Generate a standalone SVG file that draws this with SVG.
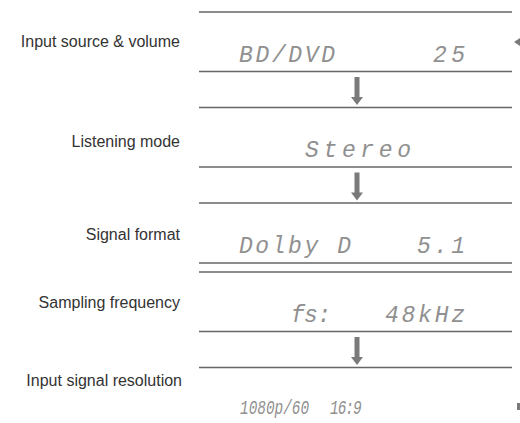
<svg xmlns="http://www.w3.org/2000/svg" width="520" height="423" viewBox="0 0 520 423">
<style>
.lbl{font-family:"Liberation Sans",Arial,sans-serif;font-size:16px;fill:#333;text-anchor:end}
.lcd{font-family:"Liberation Mono","DejaVu Sans Mono",monospace;font-style:italic;font-size:23px;fill:#909090}
.lcds{font-size:20px}
.rule{stroke:#666;stroke-width:1.4;fill:none}
.arr{fill:#7a7a7a}
</style>
<defs>
<g id="down">
<rect x="-2.5" y="0" width="5" height="21" class="arr"/>
<polygon points="-6,20 6,20 0,28" class="arr"/>
</g>
</defs>
<g id="labels">
<text class="lbl" x="180" y="47">Input source &amp; volume</text>
<text class="lbl" x="180" y="147">Listening mode</text>
<text class="lbl" x="180" y="240">Signal format</text>
<text class="lbl" x="180" y="308">Sampling frequency</text>
<text class="lbl" x="182" y="386">Input signal resolution</text>
</g>
<g id="display-input">
<line class="rule" x1="199" y1="12" x2="512" y2="12"/>
<text class="lcd" x="239" y="62" textLength="96" lengthAdjust="spacing">BD/DVD</text>
<text class="lcd" x="433" y="62" textLength="32" lengthAdjust="spacing">25</text>
<line class="rule" x1="199" y1="71.5" x2="512" y2="71.5"/>
</g>
<g id="display-mode">
<line class="rule" x1="199" y1="107.5" x2="512" y2="107.5"/>
<text class="lcd" x="305" y="157" textLength="106" lengthAdjust="spacing">Stereo</text>
<line class="rule" x1="199" y1="167" x2="512" y2="167"/>
</g>
<g id="display-format">
<line class="rule" x1="199" y1="203" x2="512" y2="203"/>
<text class="lcd" x="239" y="253" textLength="112" lengthAdjust="spacing">Dolby D</text>
<text class="lcd" x="417" y="253" textLength="48" lengthAdjust="spacing">5.1</text>
<line class="rule" x1="199" y1="263" x2="512" y2="263"/>
</g>
<g id="display-fs">
<line class="rule" x1="199" y1="272" x2="512" y2="272"/>
<text class="lcd" x="291" y="322" textLength="40" lengthAdjust="spacing">fs:</text>
<text class="lcd" x="385" y="322" textLength="80" lengthAdjust="spacing">48kHz</text>
<line class="rule" x1="199" y1="331.5" x2="512" y2="331.5"/>
</g>
<g id="display-resolution">
<line class="rule" x1="199" y1="367.5" x2="512" y2="367.5"/>
<text class="lcd lcds" transform="translate(240,414) scale(0.72,1)" x="0" y="0">1080p/60</text>
<text class="lcd lcds" transform="translate(330,414) scale(0.72,1)" x="0" y="0" textLength="44" lengthAdjust="spacing">16:9</text>
</g>
<g id="connectors">
<use href="#down" x="357" y="77"/>
<use href="#down" x="357" y="172.5"/>
<use href="#down" x="357" y="337"/>
<polygon points="514,42 520,38 520,46" class="arr"/>
<rect x="517" y="403" width="3" height="7" class="arr"/>
</g>
</svg>
